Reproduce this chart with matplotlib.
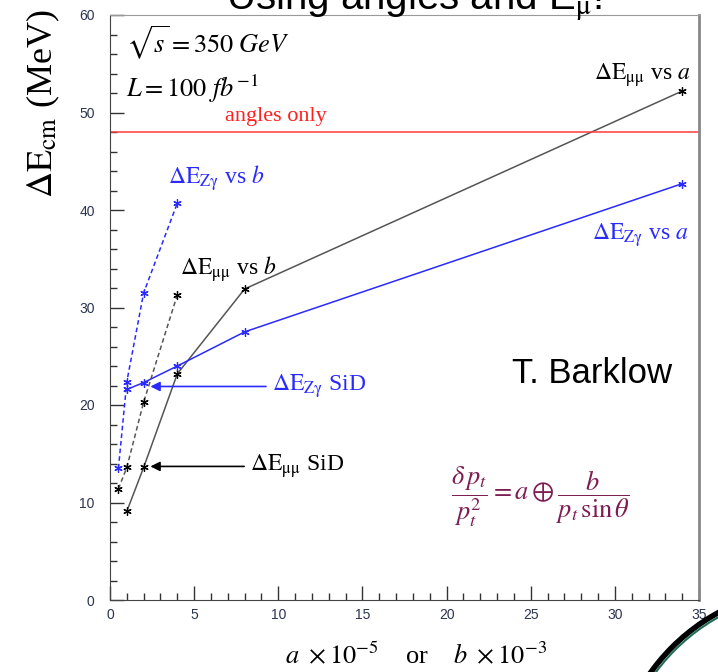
import numpy as np
import matplotlib
matplotlib.use('Agg')
import matplotlib.pyplot as plt
from matplotlib.patches import Ellipse

plt.rcParams['font.family'] = ['Liberation Sans', 'DejaVu Sans']
plt.rcParams['mathtext.fontset'] = 'stix'

# data
a_vals = [1, 2, 4, 8, 34]
mumu_vs_a = [9.1, 13.6, 23.2, 31.9, 52.2]
zg_vs_a = [21.6, 22.3, 24.0, 27.5, 42.7]

b_vals = [0.5, 1, 2, 4]
mumu_vs_b = [11.4, 13.6, 20.3, 31.3]
zg_vs_b = [13.5, 22.4, 31.5, 40.7]

angles_only = 48.0

BLUE = '#2a2aff'
GREY = '#555555'
MAROON = '#7d1d52'
SERIF = ['Liberation Serif', 'DejaVu Serif']

fig = plt.figure(figsize=(7.18, 6.72), dpi=100)
ax = fig.add_axes([110 / 718, 1 - 600 / 672, 589 / 718, 585 / 672])

star = (6, 2, 0)
ax.plot(a_vals, mumu_vs_a, color=GREY, lw=1.1, marker=star, ms=6, mec='black', mew=0.9)
ax.plot(a_vals, zg_vs_a, color=BLUE, lw=1.1, marker=star, ms=6, mec=BLUE, mew=0.9)
ax.plot(b_vals, mumu_vs_b, color=GREY, lw=1.1, ls=(0, (3, 2)), marker=star, ms=6, mec='black', mew=0.9)
ax.plot(b_vals, zg_vs_b, color=BLUE, lw=1.1, ls=(0, (3, 2)), marker=star, ms=6, mec=BLUE, mew=0.9)
ax.axhline(angles_only, color='#ff3b3b', lw=1.1)

ax.set_xlim(0, 35)
ax.set_ylim(0, 60)
ax.set_xticks(np.arange(0, 36, 5))
ax.set_xticks(np.arange(0, 36, 1), minor=True)
ax.set_yticks(np.arange(0, 61, 10))
ax.set_yticks(np.arange(0, 61, 2), minor=True)
ax.tick_params(which='both', direction='in', colors='#333333', labelsize=10, width=1)
ax.tick_params(which='major', length=10)
ax.tick_params(which='minor', length=5)
ax.tick_params(axis='x', pad=6)
ax.tick_params(axis='y', pad=11)
for lab in ax.get_xticklabels() + ax.get_yticklabels():
    lab.set_color('#2b3550')
ax.spines['left'].set_color('#444444')
ax.spines['bottom'].set_color('#444444')
ax.spines['top'].set_color('#999999')
ax.spines['top'].set_linewidth(0.8)
ax.spines['right'].set_color('#888888')
ax.spines['right'].set_linewidth(2)

# text inside the plot
ax.text(0.028, 0.952, r'$\sqrt{s} = 350\ GeV$', transform=ax.transAxes, fontsize=19, va='center')
ax.text(0.028, 0.874, r'$L = 100\ fb^{-1}$', transform=ax.transAxes, fontsize=19, va='center')
ax.text(9.86, 49.6, 'angles only', color='#ff2020', fontsize=16, family=SERIF, ha='center', va='center')

ax.text(34.5, 53.8, r'$\Delta\mathrm{E}_{\mathrm{μμ}}$ vs $a$', fontsize=17, family=SERIF, ha='right', va='center')
ax.text(34.4, 37.4, r'$\Delta\mathrm{E}_{\mathrm{Z\gamma}}$ vs $a$', fontsize=17, family=SERIF, color=BLUE, ha='right', va='center')
ax.text(3.45, 43.3, r'$\Delta\mathrm{E}_{\mathrm{Z\gamma}}$ vs $b$', fontsize=17, family=SERIF, color=BLUE, ha='left', va='center')
ax.text(4.16, 33.9, r'$\Delta\mathrm{E}_{\mathrm{μμ}}$ vs $b$', fontsize=17, family=SERIF, ha='left', va='center')

ax.annotate(r'$\Delta\mathrm{E}_{\mathrm{Z\gamma}}$ SiD', xy=(2.4, 21.9), xytext=(9.6, 21.9),
            fontsize=17, family=SERIF, color=BLUE, va='center',
            arrowprops=dict(arrowstyle='-|>', color=BLUE, lw=1.2, mutation_scale=14, shrinkA=2, shrinkB=0))
ax.annotate(r'$\Delta\mathrm{E}_{\mathrm{μμ}}$ SiD', xy=(2.4, 13.7), xytext=(8.3, 13.7),
            fontsize=17, family=SERIF, color='black', va='center',
            arrowprops=dict(arrowstyle='-|>', color='black', lw=1.2, mutation_scale=14, shrinkA=2, shrinkB=0))

ax.text(0.954, 0.388, 'T. Barklow', transform=ax.transAxes, fontsize=25, ha='right', va='center')
ax.text(25.6, 10.6, r'$\dfrac{\delta\, p_t}{p_t^2} = a \oplus \dfrac{b}{p_t\, \sin\theta}$',
        fontsize=19, color=MAROON, ha='center', va='center')

# labels outside
fig.text(414 / 718, 1 - 10 / 672, r'Using angles and E$_{\mathrm{μ}}$!', fontsize=29, ha='center', va='baseline')
fig.text(43 / 718, 1 - 104 / 672, r'$\Delta\mathrm{E}_{\mathrm{cm}}$ (MeV)', fontsize=26, family=SERIF,
         rotation=90, ha='center', va='center')
fig.text(416 / 718, 1 - 655 / 672, r'$a\ \times 10^{-5}$    or    $b\ \times 10^{-3}$', fontsize=19,
         family=SERIF, ha='center', va='center')

# slide decoration in the corner
fig.patches.append(Ellipse((815 / 718, 1 - 790 / 672), 404 / 718, 404 / 672, transform=fig.transFigure,
                           fill=False, ec='black', lw=4))
fig.patches.append(Ellipse((815 / 718, 1 - 790 / 672), 396 / 718, 396 / 672, transform=fig.transFigure,
                           fill=False, ec='#1f6b55', lw=1.5))

fig.savefig('out.png', dpi=100)
